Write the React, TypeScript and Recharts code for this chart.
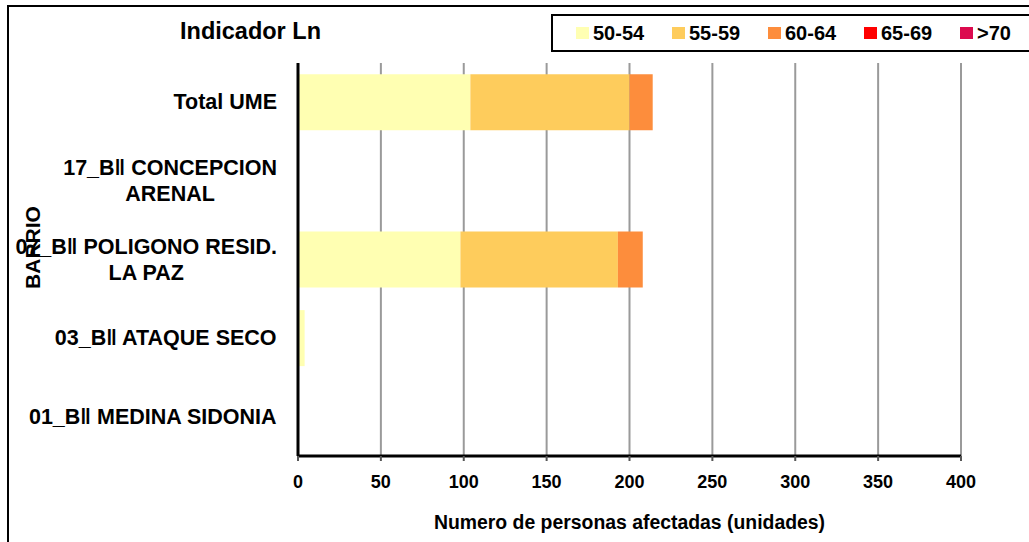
import { BarChart, Bar, XAxis, YAxis, CartesianGrid } from "recharts";

const FONT = '"Liberation Sans", Arial, sans-serif';

// barrios, top to bottom
const categories = [
  "Total UME",
  "17_B\u2016 CONCEPCION\nARENAL",
  "07_B\u2016 POLIGONO RESID.\nLA PAZ",
  "03_B\u2016 ATAQUE SECO",
  "01_B\u2016 MEDINA SIDONIA",
];

const seriesNames = ["50-54", "55-59", "60-64", "65-69", ">70"];
const seriesColors = ["#FFFFB2", "#FECC5C", "#FD8D3C", "#FF0000", "#DC0A4E"];

const v50_54 = [104, 0, 98, 4, 0];
const v55_59 = [96, 0, 95, 0, 0];
const v60_64 = [14, 0, 15, 0, 0];
const v65_69 = [0, 0, 0, 0, 0];
const v70 = [0, 0, 0, 0, 0];

const xTicks = [0, 50, 100, 150, 200, 250, 300, 350, 400];

const seriesValues = [v50_54, v55_59, v60_64, v65_69, v70];

const data = categories.map((name, i) => {
  const row: Record<string, string | number> = { name };
  seriesNames.forEach((s, j) => {
    row[s] = seriesValues[j][i];
  });
  return row;
});

const LABEL_SIZE = 21.5;
const labelFont = `bold ${LABEL_SIZE}px ${FONT}`;
let measureCtx: CanvasRenderingContext2D | null = null;
const measure = (t: string) => {
  if (!measureCtx) measureCtx = document.createElement("canvas").getContext("2d");
  if (!measureCtx) return t.length * 12;
  measureCtx.font = labelFont;
  return measureCtx.measureText(t).width;
};

const CategoryTick = (props: any) => {
  const { x, y, payload } = props;
  const lines: string[] = String(payload.value).split("\n");
  const maxW = Math.max(...lines.map(measure));
  const cx = x - maxW / 2;
  const lh = 26;
  return (
    <g>
      {lines.map((line, i) => (
        <text
          key={i}
          x={cx}
          y={y + (i - (lines.length - 1) / 2) * lh}
          textAnchor="middle"
          dominantBaseline="central"
          fontFamily={FONT}
          fontWeight="bold"
          fontSize={LABEL_SIZE}
          fill="#000"
        >
          {line}
        </text>
      ))}
    </g>
  );
};

const BarrioLabel = (props: any) => {
  const { viewBox } = props;
  const cy = viewBox.y + viewBox.height / 2 - 12;
  return (
    <text
      x={32}
      y={cy}
      transform={`rotate(-90, 32, ${cy})`}
      textAnchor="middle"
      dominantBaseline="central"
      fontFamily={FONT}
      fontWeight="bold"
      fontSize={21}
      fill="#000"
    >
      BARRIO
    </text>
  );
};

export default function App() {
  return (
    <div
      style={{
        position: "absolute",
        left: 0,
        top: 0,
        width: 1029,
        height: 542,
        overflow: "hidden",
        background: "#fff",
        fontFamily: FONT,
      }}
    >
      <div
        style={{
          position: "absolute",
          left: 7,
          top: 5,
          width: 1100,
          height: 600,
          border: "2px solid #000",
        }}
      />
      <div
        style={{
          position: "absolute",
          left: 180,
          top: 17,
          fontSize: 23.5,
          fontWeight: "bold",
          lineHeight: "28px",
          whiteSpace: "nowrap",
        }}
      >
        Indicador Ln
      </div>
      <div
        style={{
          position: "absolute",
          left: 551,
          top: 14,
          width: 600,
          height: 34,
          border: "2px solid #000",
        }}
      >
        {seriesNames.map((s, i) => (
          <div
            key={s}
            style={{
              position: "absolute",
              left: 23 + i * 96,
              top: 0,
              height: 34,
              display: "flex",
              alignItems: "center",
              fontSize: 20,
              fontWeight: "bold",
              whiteSpace: "nowrap",
            }}
          >
            <span
              style={{
                display: "inline-block",
                width: 13,
                height: 12,
                background: seriesColors[i],
                marginRight: 4,
              }}
            />
            {s}
          </div>
        ))}
      </div>
      <div style={{ position: "absolute", left: 0, top: 0 }}>
        <BarChart
          width={1029}
          height={542}
          data={data}
          layout="vertical"
          margin={{ top: 63, right: 68, bottom: 0, left: 0 }}
          barCategoryGap="14.4%"
        >
          <CartesianGrid horizontal={false} stroke="#9a9a9a" strokeWidth={2} />
          <XAxis
            type="number"
            domain={[0, 400]}
            ticks={xTicks}
            interval={0}
            height={86}
            axisLine={{ stroke: "#000", strokeWidth: 3 }}
            tickLine={{ stroke: "#555", strokeWidth: 2 }}
            tickSize={5}
            tickMargin={14}
            tick={{ fill: "#000", fontSize: 18, fontWeight: "bold", fontFamily: FONT }}
            label={{
              value: "Numero de personas afectadas (unidades)",
              position: "insideBottom",
              offset: 13,
              fill: "#000",
              fontSize: 19.4,
              fontWeight: "bold",
              fontFamily: FONT,
            }}
          />
          <YAxis
            type="category"
            dataKey="name"
            width={298}
            axisLine={{ stroke: "#000", strokeWidth: 3 }}
            tickLine={false}
            tickSize={6}
            tickMargin={15}
            interval={0}
            tick={<CategoryTick />}
            label={<BarrioLabel />}
          />
          {seriesNames.map((s, i) => (
            <Bar
              key={s}
              dataKey={s}
              stackId="a"
              fill={seriesColors[i]}
              isAnimationActive={false}
            />
          ))}
        </BarChart>
      </div>
    </div>
  );
}
